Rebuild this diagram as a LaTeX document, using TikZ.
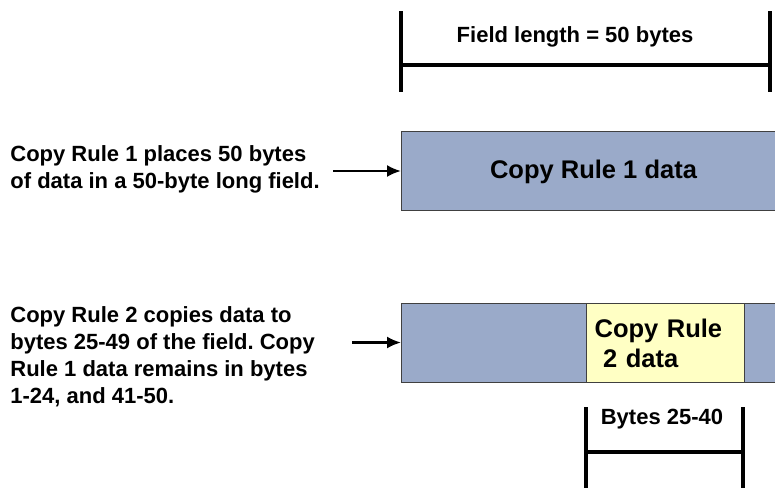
\documentclass[tikz,border=0pt]{standalone}
\usepackage{fontspec}
\setmainfont{Liberation Sans}
\usepackage{tikz}
\usetikzlibrary{arrows.meta,positioning}
\definecolor{FieldBlue}{HTML}{9AAAC9}
\definecolor{RuleYellow}{HTML}{FFFFC4}
\definecolor{EdgeGray}{gray}{0.25}
\frenchspacing
\tikzset{
  fieldbox/.style={draw=EdgeGray,line width=0.6pt,fill=FieldBlue,inner sep=0pt,
    minimum width=192.5pt,minimum height=39.5pt,anchor=north west},
  rulebox/.style={draw=EdgeGray,line width=0.6pt,fill=RuleYellow,inner sep=0pt,
    minimum width=79pt,minimum height=39.5pt,anchor=north west},
  note/.style={align=left,inner sep=0pt,anchor=west,
    font=\bfseries\fontsize{11}{13.5}\selectfont},
  bigtext/.style={font=\bfseries\fontsize{12.75}{15}\selectfont},
  dimline/.style={line width=2pt},
  pointer/.style={line width=1.1pt,-{Latex[length=7pt,width=6pt]}}
}
\begin{document}
\begin{tikzpicture}[x=0.5pt,y=-0.5pt]
  \useasboundingbox (0,0) rectangle (775,487);
  \clip (0,0) rectangle (775,487);
  % field length
  \coordinate (fl1) at (401,11);
  \coordinate (fl2) at (770,11);
  \draw[dimline] (fl1) -- +(0,81);
  \draw[dimline] (fl2) -- +(0,81);
  \draw[dimline] ([yshift=-27pt]fl1) -- ([yshift=-27pt]fl2);
  \node[note,anchor=center] (fieldlen) at (575,37) {Field length = 50 bytes};
  % copy rule 1
  \node[fieldbox] (field1) at (401,131) {};
  \node[bigtext] (data1) at (593.5,172) {Copy Rule 1 data};
  \node[note] (note1) at (10,169) {Copy Rule 1 places 50 bytes\\of data in a 50-byte long field.};
  \coordinate (tail1) at (333,171);
  \draw[pointer] (tail1) -- (tail1 -| field1.west);
  % copy rule 2
  \node[fieldbox] (field2) at (401,303) {};
  \node[rulebox,bigtext,align=left,text width=71pt,inner xsep=3pt] (rule2)
    at (586,303) {Copy Rule\\\ 2 data};
  \node[note] (note2) at (10,357) {Copy Rule 2 copies data to\\bytes 25-49 of the field. Copy\\Rule 1 data remains in bytes\\1-24, and 41-50.};
  \coordinate (tail2) at (352,342.5);
  \draw[pointer] (tail2) -- (tail2 -| field2.west);
  % bytes 25-40
  \coordinate (br1) at (586,407);
  \coordinate (br2) at (743,407);
  \draw[dimline] (br1) -- +(0,90);
  \draw[dimline] (br2) -- +(0,90);
  \draw[dimline] ([yshift=-22.5pt]br1) -- ([yshift=-22.5pt]br2);
  \node[note,anchor=center] (bytes) at (662,419) {Bytes 25-40};
\end{tikzpicture}
\end{document}
